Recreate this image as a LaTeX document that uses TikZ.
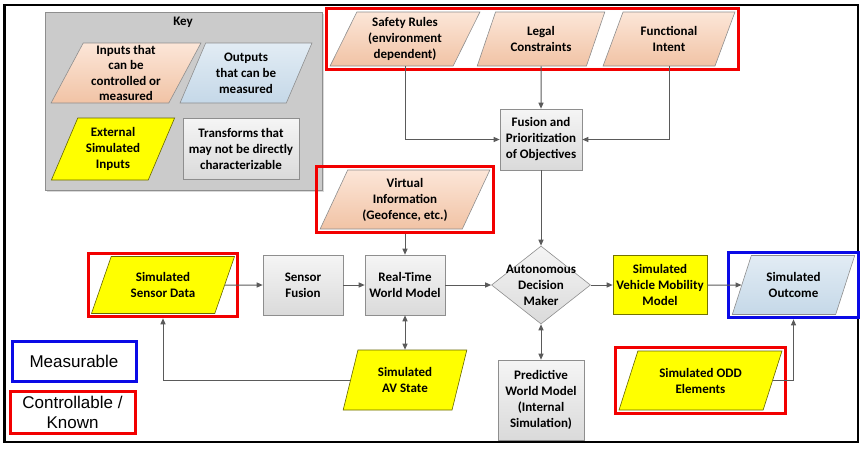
\documentclass[tikz,border=0pt]{standalone}
\usepackage{fontspec}
\setmainfont{Carlito}
\newfontfamily\legendfont{Liberation Sans}
\usetikzlibrary{shapes.geometric}
\usetikzlibrary{arrows.meta}
\usetikzlibrary{fit}
\usetikzlibrary{shadows}

\definecolor{peachtop}{HTML}{FCE6D8}
\definecolor{peachbot}{HTML}{F1C3A5}
\definecolor{bluetop}{HTML}{E2ECF4}
\definecolor{bluebot}{HTML}{C5D8E8}
\definecolor{graytop}{HTML}{F5F5F5}
\definecolor{graybot}{HTML}{DADADA}
\definecolor{keygray}{HTML}{CBCBCB}
\definecolor{edgegray}{HTML}{8E8E8E}
\definecolor{linegray}{HTML}{5A5A5A}
\definecolor{simyellow}{HTML}{FFFF00}
\definecolor{ctrlred}{HTML}{F20000}
\definecolor{measblue}{HTML}{0A0AE6}

\begin{document}
\begin{tikzpicture}[x=1pt, y=-1pt,
    >={Triangle[length=6pt,width=5pt]},
    every node/.style={font=\bfseries\fontsize{13}{16}\selectfont, align=center, inner sep=1pt},
    para/.style={trapezium, trapezium left angle=65, trapezium right angle=115,
                 trapezium stretches=true, draw=edgegray, line width=0.6pt},
    peach/.style={top color=peachtop, bottom color=peachbot},
    bluish/.style={top color=bluetop, bottom color=bluebot},
    yellowish/.style={fill=simyellow, draw=black!60!simyellow},
    proc/.style={rectangle, draw=edgegray, line width=0.6pt, top color=graytop, bottom color=graybot,
                 drop shadow={shadow xshift=1pt, shadow yshift=-1pt, opacity=0.25}},
    dec/.style={diamond, draw=edgegray, line width=0.6pt, top color=graytop, bottom color=graybot, inner sep=0pt},
    yelbox/.style={rectangle, draw=black!55!simyellow, line width=0.6pt, fill=simyellow},
    ctrl/.style={rectangle, draw=ctrlred, line width=3pt, inner sep=3pt},
    meas/.style={rectangle, draw=measblue, line width=3pt, inner sep=3pt},
    legend/.style={font=\legendfont\fontsize{17}{20}\selectfont},
    conn/.style={draw=linegray, line width=1pt}
  ]

  \useasboundingbox (0,0) rectangle (865,448);
  % outer frame
  \draw [line width=2.5pt] (4.5,5) rectangle (858,442);

  % key
  \node [rectangle, draw=edgegray, fill=keygray, line width=0.6pt, minimum width=277, minimum height=178,
         drop shadow={shadow xshift=1.5pt, shadow yshift=-1.5pt, opacity=0.3}] (keybg) at (183.5,101) {};
  \node (keytitle) at (183,22) {Key};
  \node [para, peach, minimum width=150, minimum height=60, font=\bfseries\fontsize{13}{15.5}\selectfont] (keyin) at (126,73) {Inputs that\\can be\\controlled or\\measured};
  \node [para, bluish, minimum width=132, minimum height=60] (keyout) at (246,73) {Outputs\\that can be\\measured};
  \node [para, yellowish, minimum width=124, minimum height=62] (keyext) at (113,149) {External\\Simulated\\Inputs};
  \node [proc, minimum width=116, minimum height=61] (keytr) at (241,148.5) {Transforms that\\may not be directly\\characterizable};

  % objectives
  \node [para, peach, minimum width=150, minimum height=54] (safety) at (405,39) {Safety Rules\\(environment\\dependent)};
  \node [para, peach, minimum width=128, minimum height=54] (legal) at (541,39) {Legal\\Constraints};
  \node [para, peach, minimum width=132, minimum height=54] (functional) at (669,39) {Functional\\Intent};
  \node [ctrl, fit=(safety.bottom left corner)(functional.top right corner)] (topframe) {};
  \node [proc, minimum width=82, minimum height=61] (fusion) at (541,139.5) {Fusion and\\Prioritization\\of Objectives};

  % main chain
  \node [para, peach, minimum width=170, minimum height=59] (virtual) at (405,199.5) {Virtual\\Information\\(Geofence, etc.)};
  \node [ctrl, fit=(virtual.bottom left corner)(virtual.top right corner)] (virtualframe) {};
  \node [para, yellowish, minimum width=144, minimum height=57] (sensordata) at (163,285) {Simulated\\Sensor Data};
  \node [ctrl, fit=(sensordata.bottom left corner)(sensordata.top right corner)] (sensorframe) {};
  \node [proc, minimum width=80, minimum height=60] (sfusion) at (303,285) {Sensor\\Fusion};
  \node [proc, minimum width=80, minimum height=60] (rtwm) at (405,285) {Real-Time\\World Model};
  \node [dec, minimum width=99, minimum height=78, label={center:{Autonomous\\Decision\\Maker}}] (adm) at (541,285) {};
  \node [yelbox, minimum width=94, minimum height=59] (vmm) at (660,285) {Simulated\\Vehicle Mobility\\Model};
  \node [para, bluish, minimum width=123, minimum height=59] (outcome) at (793.5,285) {Simulated\\Outcome};
  \node [meas, fit=(outcome.bottom left corner)(outcome.top right corner)] (outcomeframe) {};

  % lower row
  \node [para, yellowish, trapezium left angle=72, trapezium right angle=108, minimum width=124, minimum height=60] (avstate) at (405,380) {Simulated\\AV State};
  \node [proc, minimum width=86, minimum height=80] (pwm) at (541,400) {Predictive\\World Model\\(Internal\\Simulation)};
  \node [para, yellowish, minimum width=163, minimum height=59] (odd) at (700.5,380.5) {Simulated ODD\\Elements};
  \node [ctrl, fit=(odd.bottom left corner)(odd.top right corner)] (oddframe) {};

  % legend
  \node [meas, legend, minimum width=124, minimum height=40] (measurable) at (74,361) {Measurable};
  \node [ctrl, legend, minimum width=125, minimum height=42] (controllable) at (72.5,412) {Controllable /\\Known};

  % connections
  \draw [conn, ->] (safety.south) |- (fusion.west);
  \draw [conn, ->] (legal.south) -- (fusion.north);
  \draw [conn, ->] (functional.south) |- (fusion.east);
  \draw [conn, ->] (fusion) -- (adm);
  \draw [conn, ->] (virtualframe.south) -- (rtwm.north);
  \draw [conn, ->] (sensordata) -- (sfusion);
  \draw [conn, ->] (sfusion) -- (rtwm);
  \draw [conn, ->] (rtwm) -- (adm);
  \draw [conn, ->] (adm) -- (vmm);
  \draw [conn, ->] (vmm) -- (outcome);
  \draw [conn, <->] (rtwm) -- (avstate);
  \draw [conn, <->] (adm) -- (pwm);
  \draw [conn, ->] (avstate.west) -| (sensorframe.south);
  \draw [conn, ->] (odd.east) -| (outcomeframe.south);

\end{tikzpicture}
\end{document}
